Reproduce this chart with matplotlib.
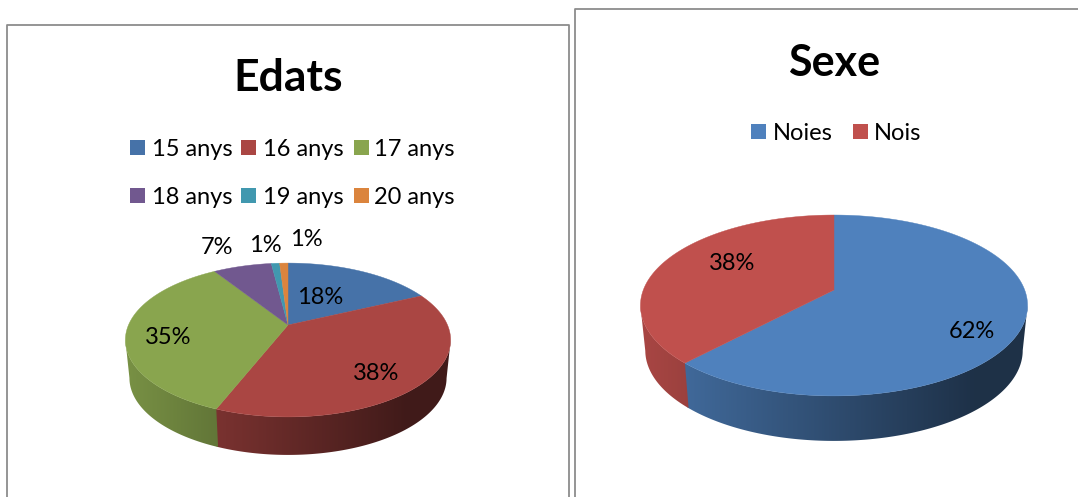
import numpy as np
import matplotlib
matplotlib.use('Agg')
import matplotlib.pyplot as plt
from matplotlib.patches import Polygon

plt.rcParams['font.family'] = ['Lato', 'DejaVu Sans']

# Data
edats_names = ['15 anys', '16 anys', '17 anys', '18 anys', '19 anys', '20 anys']
edats_values = [18, 38, 35, 7, 1, 1]
edats_colors = ['#4672A8', '#AA4643', '#89A54E', '#71588F', '#4198AF', '#DB843D']

sexe_names = ['Noies', 'Nois']
sexe_values = [62, 38]
sexe_colors = ['#4F81BD', '#C0504D']

W, H = 1078, 497
TEXT = '#000000'
FRAME = '#8C8C8C'


def rim(angles, cx, cy, R, k, p):
    # circle seen in perspective: the front of the pie looks bigger than the back
    u = np.cos(angles)
    v = np.sin(angles)
    d = 1 + p * v
    return cx + R * u / d, cy - k * v / d


def wall_gradient(color):
    # side wall gets darker from left to right
    t = np.linspace(0, 1, 256)
    f = np.clip(0.88 - 0.58 * t, 0.38, 1)
    rgb = np.array(matplotlib.colors.to_rgb(color))
    return (f[:, None] * rgb)[None, :, :]


def pie3d(ax, values, colors, cx, cy, R, k, p, depth):
    values = np.array(values, dtype=float)
    edges = np.cumsum(np.r_[0, values]) / values.sum()
    # clockwise from the top, as in the original
    ang = np.pi / 2 - 2 * np.pi * edges
    x0, x1 = cx - R * 1.02, cx + R * 1.02

    # walls first, only from the widest point of the rim round the front
    for i, c in enumerate(colors):
        a = np.linspace(ang[i], ang[i + 1] - 0.008, max(int(values[i] * 8), 8))
        a = a[np.sin(a) < -p]
        if len(a) < 2:
            continue
        x, y = rim(a, cx, cy, R, k, p)
        xb = cx + 0.975 * (x - cx)
        yb = y + depth
        im = ax.imshow(wall_gradient(c), extent=(x0, x1, cy + 2 * k + depth, cy - 2 * k),
                       aspect='auto', interpolation='bilinear', zorder=2)
        im.set_clip_path(Polygon(np.c_[np.r_[x, xb[::-1]], np.r_[y, yb[::-1]]],
                                 transform=ax.transData))

    # top face
    for i, c in enumerate(colors):
        a = np.linspace(ang[i], ang[i + 1], max(int(values[i] * 4), 4))
        x, y = rim(a, cx, cy, R, k, p)
        ax.fill(np.r_[cx, x], np.r_[cy, y], color=c, lw=0.3, zorder=3)


def legend(ax, names, colors, swatch_x, text_x, rows_y, size):
    for i, name in enumerate(names):
        col = i % len(swatch_x)
        y = rows_y[i // len(swatch_x)]
        ax.fill([swatch_x[col], swatch_x[col] + 15, swatch_x[col] + 15, swatch_x[col]],
                [y - 7.5, y - 7.5, y + 7.5, y + 7.5], color=colors[i], lw=0, zorder=3)
        ax.text(text_x[col], y, name, fontsize=size, color=TEXT, ha='left', va='center_baseline')


fig = plt.figure(figsize=(W / 100, H / 100), dpi=100, facecolor='white')
ax = fig.add_axes([0, 0, 1, 1])

# chart frames, they run off the picture
ax.plot([6.5, 6.5, 569, 569], [H, 24.5, 24.5, H], color=FRAME, lw=1.3)
ax.plot([575, 575, W], [H, 8.5, 8.5], color=FRAME, lw=1.3)

# Edats
ax.text(288, 78, 'Edats', fontsize=32, fontweight='bold', ha='center', va='center', color=TEXT)
legend(ax, edats_names, edats_colors, [130, 241, 354], [151.5, 263, 374.5], [147, 195], 17)
pie3d(ax, edats_values, edats_colors, 288, 325, 159.5, 74, 0.195, 38)
edats_label_pos = [(320, 298), (376, 374), (168, 337), (217, 247), (265, 246), (306, 240)]
for v, (x, y) in zip(edats_values, edats_label_pos):
    ax.text(x, y, f'{v}%', fontsize=17, ha='center', va='center', color=TEXT, zorder=5)

# Sexe
ax.text(834, 63, 'Sexe', fontsize=31, fontweight='bold', ha='center', va='center', color=TEXT)
legend(ax, sexe_names, sexe_colors, [751, 853], [772.5, 874], [131], 17)
pie3d(ax, sexe_values, sexe_colors, 834, 290, 190.7, 87.8, 0.171, 45)
sexe_label_pos = [(972, 332), (732, 264)]
for v, (x, y) in zip(sexe_values, sexe_label_pos):
    ax.text(x, y, f'{v}%', fontsize=17, ha='center', va='center', color=TEXT, zorder=5)

# imshow changes the limits, so set them last
ax.set_xlim(0, W)
ax.set_ylim(H, 0)
ax.axis('off')

fig.savefig('out.png', dpi=100)
